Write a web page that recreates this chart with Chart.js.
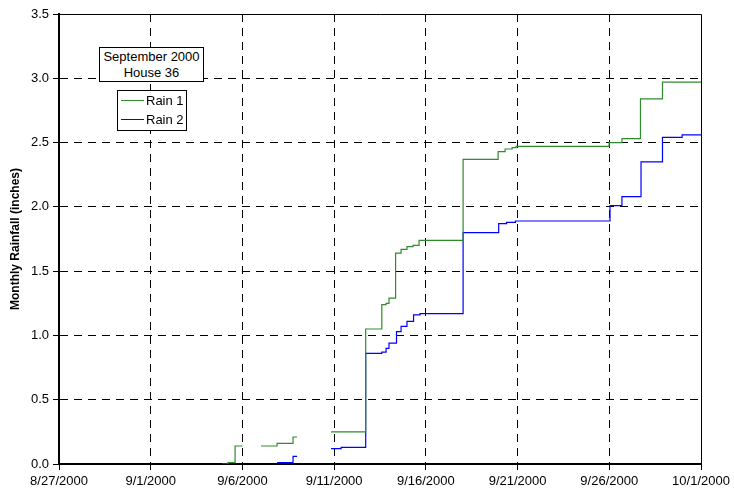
<!DOCTYPE html>
<html>
<head>
<meta charset="utf-8">
<script src="https://cdn.jsdelivr.net/npm/chart.js@4/dist/chart.umd.min.js"></script>
<style>
  html, body { margin: 0; padding: 0; background: #fff; }
  #wrap { position: relative; width: 734px; height: 495px; font-family: "Liberation Sans", Arial, sans-serif; }
  canvas { position: absolute; left: 0; top: 0; }
  .box { position: absolute; background: #fff; border: 1px solid #000; box-sizing: border-box; color: #000; font-size: 13px; }
  #titleBox { left: 99px; top: 47px; width: 105px; height: 35px; text-align: center; line-height: 16px; padding-top: 1px; }
  #legendBox { left: 117px; top: 90px; width: 70px; height: 41px; }
  .item { position: absolute; left: 3px; height: 16px; line-height: 16px; white-space: nowrap; }
  .item span.ln { display: inline-block; width: 23px; height: 1px; vertical-align: middle; margin-right: 2px; position: relative; top: -1px; }
</style>
</head>
<body>
<div id="wrap">
  <canvas id="c" width="734" height="495"></canvas>
  <div class="box" id="titleBox">September 2000<br>House 36</div>
  <div class="box" id="legendBox">
    <div class="item" style="top:2px"><span class="ln" style="background:#2e8b2e"></span>Rain 1</div>
    <div class="item" style="top:21px"><span class="ln" style="background:#0000ff"></span>Rain 2</div>
  </div>
</div>
<script>
// x values are days after 8/27/2000; null values break the line
const xTickLabels = ['8/27/2000', '9/1/2000', '9/6/2000', '9/11/2000', '9/16/2000', '9/21/2000', '9/26/2000', '10/1/2000'];
const seriesNames = ['Rain 1', 'Rain 2'];

const rain1Days = [8.89, 9.21, 9.6, 10.0, 10.5, 11.01, 11.89, 12.76, 12.98, 13.9, 14.83, 16.72, 17.6, 17.83, 17.99, 18.35, 18.65, 18.97, 19.3, 19.63, 22.03, 23.94, 24.32, 24.7, 24.92, 29.99, 30.69, 31.7, 32.9, 35.0];
const rain1Values = [0.00, 0.01, 0.14, 0.14, null, 0.14, 0.16, 0.21, 0.21, null, 0.25, 1.05, 1.24, 1.25, 1.29, 1.64, 1.67, 1.69, 1.70, 1.74, 2.37, 2.43, 2.45, 2.46, 2.47, 2.50, 2.53, 2.84, 2.97, 2.97];

const rain2Days = [11.89, 12.76, 12.98, 13.9, 14.83, 15.38, 16.72, 17.6, 17.83, 17.99, 18.4, 18.65, 18.97, 19.33, 19.68, 22.03, 23.97, 24.4, 24.88, 30.04, 30.69, 31.73, 32.9, 33.97, 35.0];
const rain2Values = [0.01, 0.06, 0.06, null, 0.12, 0.13, 0.86, 0.87, 0.90, 0.94, 1.03, 1.07, 1.11, 1.16, 1.17, 1.80, 1.87, 1.88, 1.89, 2.01, 2.08, 2.35, 2.54, 2.56, 2.56];

const toPoints = (xs, ys) => xs.map((x, i) => ({ x: x, y: ys[i] }));

const FONT = "'Liberation Sans', Arial, sans-serif";

const frame = {
  id: 'frame',
  afterDatasetsDraw(chart) {
    const a = chart.chartArea, ctx = chart.ctx;
    ctx.save();
    ctx.strokeStyle = '#000';
    ctx.lineWidth = 1;
    ctx.setLineDash([]);
    ctx.beginPath();
    ctx.moveTo(a.left, Math.round(a.top) + 0.5);
    ctx.lineTo(Math.round(a.right) + 0.5, Math.round(a.top) + 0.5);
    ctx.lineTo(Math.round(a.right) + 0.5, a.bottom);
    ctx.stroke();
    ctx.restore();
  }
};

new Chart(document.getElementById('c'), {
  type: 'line',
  data: {
    datasets: [
      { label: seriesNames[0], data: toPoints(rain1Days, rain1Values), borderColor: '#2e8b2e', borderWidth: 1.2, pointRadius: 0, stepped: 'before', spanGaps: false, fill: false },
      { label: seriesNames[1], data: toPoints(rain2Days, rain2Values), borderColor: '#0000ff', borderWidth: 1.2, pointRadius: 0, stepped: 'before', spanGaps: false, fill: false }
    ]
  },
  options: {
    responsive: false,
    animation: false,
    events: [],
    layout: { padding: { left: 0, right: 33, top: 14, bottom: 0 } },
    plugins: { legend: { display: false }, tooltip: { enabled: false }, title: { display: false } },
    scales: {
      x: {
        type: 'linear', min: 0, max: 35,
        afterFit(s) { s.height = 31; },
        ticks: { stepSize: 5, autoSkip: false, maxRotation: 0, color: '#000', padding: 4, font: { family: FONT, size: 13 },
          callback: (v) => xTickLabels[Math.round(v / 5)] },
        grid: { color: (c) => (c.tick && (c.tick.value === 0 || c.tick.value === 35)) ? 'rgba(0,0,0,0)' : '#000', lineWidth: 1, tickLength: 6, tickColor: '#000' },
        border: { display: true, color: '#000', width: 2, dash: [8, 6] }
      },
      y: {
        type: 'linear', min: 0, max: 3.5,
        afterFit(s) { s.width = 59; },
        ticks: { stepSize: 0.5, color: '#000', padding: 4, font: { family: FONT, size: 13 },
          callback: (v) => v.toFixed(1) },
        grid: { color: (c) => (c.tick && (c.tick.value === 0 || c.tick.value === 3.5)) ? 'rgba(0,0,0,0)' : '#000', lineWidth: 1, tickLength: 6, tickColor: '#000' },
        border: { display: true, color: '#000', width: 2, dash: [8, 6] },
        title: { display: true, text: 'Monthly Rainfall (inches)', color: '#000', font: { family: FONT, size: 12, weight: 'bold' }, padding: { top: 8, bottom: 0 } }
      }
    }
  },
  plugins: [frame]
});
</script>
</body>
</html>
